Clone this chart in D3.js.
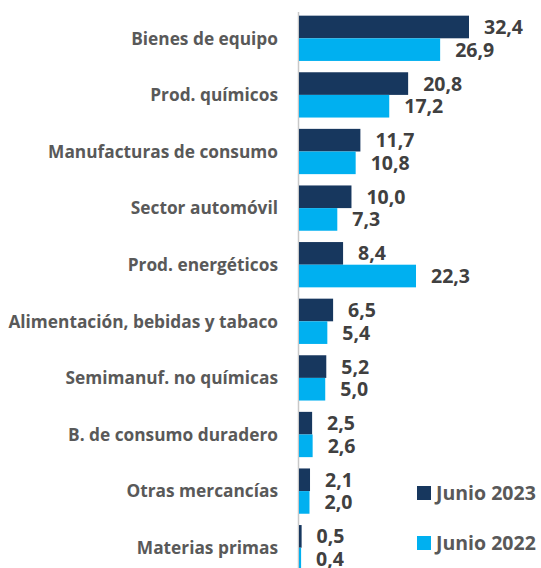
<!DOCTYPE html>
<html>
<head>
<meta charset="utf-8">
<script src="https://cdn.jsdelivr.net/npm/d3@7"></script>
<style>
body{margin:0;background:#fff;}
text{font-family:"Open Sans",sans-serif;font-weight:bold;}
</style>
</head>
<body>
<script>
var w=541;
var h=568;

var categories=["Bienes de equipo","Prod. químicos","Manufacturas de consumo","Sector automóvil","Prod. energéticos","Alimentación, bebidas y tabaco","Semimanuf. no químicas","B. de consumo duradero","Otras mercancías","Materias primas"];
var junio2023=[32.4,20.8,11.7,10.0,8.4,6.5,5.2,2.5,2.1,0.5];
var junio2022=[26.9,17.2,10.8,7.3,22.3,5.4,5.0,2.6,2.0,0.4];
var seriesNames=["Junio 2023","Junio 2022"];
var colors=["#17375E","#00B0F0"];

var svg=d3.select("body").append("svg")
	.attr("width",w)
	.attr("height",h);

var x0=299;
var x=d3.scaleLinear().domain([0,32.4]).range([x0,469]);
var y=d3.scaleBand().domain(categories).range([10,576]).paddingInner(0.2).paddingOuter(0.1);

var fmt=function(v){ return d3.format(".1f")(v).replace(".",","); };

// axis line
svg.append("line")
	.attr("x1",298.5).attr("x2",298.5)
	.attr("y1",12).attr("y2",h)
	.attr("stroke","#c8c8c8").attr("stroke-width",1.5);

var series=[junio2023,junio2022];

series.forEach(function(vals,s){
	var g=svg.append("g");
	var bh=y.bandwidth()/2;
	g.selectAll("rect").data(vals).enter().append("rect")
		.attr("x",x0)
		.attr("y",function(d,i){ return y(categories[i])+s*bh; })
		.attr("width",function(d){ return x(d)-x0; })
		.attr("height",bh)
		.attr("fill",colors[s]);
	g.selectAll("text").data(vals).enter().append("text")
		.attr("x",function(d){ return x(d)+15; })
		.attr("y",function(d,i){ return y(categories[i])+s*bh+bh/2; })
		.attr("dy","0.36em")
		.attr("font-size",19.5)
		.attr("fill","#404040")
		.text(fmt);
});

// category labels
svg.append("g").selectAll("text").data(categories).enter().append("text")
	.attr("x",278)
	.attr("y",function(d){ return y(d)+y.bandwidth()/2; })
	.attr("dy","0.36em")
	.attr("text-anchor","end")
	.attr("font-size",17.3)
	.attr("fill","#595959")
	.text(function(d){ return d; });

// legend
var leg=svg.append("g").selectAll("g").data(seriesNames).enter().append("g")
	.attr("transform",function(d,i){ return "translate(417,"+(493+i*50)+")"; });
leg.append("rect").attr("x",0).attr("y",-7).attr("width",14).attr("height",14)
	.attr("fill",function(d,i){ return colors[i]; });
leg.append("text").attr("x",19).attr("y",0).attr("dy","0.36em")
	.attr("font-size",19.5).attr("fill","#595959")
	.text(function(d){ return d; });
</script>
</body>
</html>
